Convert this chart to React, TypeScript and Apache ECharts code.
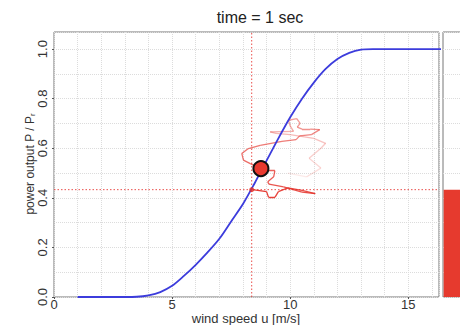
import React, { useEffect, useRef } from "react";
import * as echarts from "echarts";

const titleText = "time = 1 sec";
const xName = "wind speed u [m/s]";
const yName = "power output P / P{s|r}";

// power curve (wind speed u, normalised power P/Pr)
const curveU = [1, 2, 3, 3.5, 4, 4.5, 5, 5.5, 6, 6.5, 7, 7.5, 8, 8.5, 9, 9.5, 10, 10.5, 11, 11.5, 12, 12.5, 13, 13.5, 14, 15, 16, 17];
const curveP = [0, 0, 0, 0.001, 0.007, 0.02, 0.045, 0.085, 0.13, 0.18, 0.235, 0.305, 0.375, 0.46, 0.55, 0.64, 0.725, 0.8, 0.865, 0.92, 0.96, 0.985, 0.998, 1, 1, 1, 1, 1];

// history trail, oldest first
const trailU = [9.9, 10.7, 11.3, 10.8, 11.3, 11.5, 11.0, 10.0, 9.4,
  9.15, 10.14, 10.0, 9.93, 10.28, 10.42, 10.3, 10.5, 10.85, 11.25, 10.9, 10.4, 10.25,
  9.65, 8.73, 8.23, 7.95, 8.02, 8.31, 8.6,
  8.95, 9.35, 9.3, 9.05, 9.1, 9.72, 10.5, 11.06, 10.5, 9.9, 9.5, 9.36, 9.08, 9.0, 8.4];
const trailP = [0.5, 0.485, 0.52, 0.56, 0.6, 0.62, 0.64, 0.655, 0.66,
  0.666, 0.668, 0.69, 0.713, 0.72, 0.7, 0.685, 0.677, 0.677, 0.675, 0.655, 0.65, 0.635,
  0.628, 0.612, 0.599, 0.579, 0.552, 0.538, 0.525,
  0.51, 0.51, 0.485, 0.465, 0.455, 0.444, 0.423, 0.417, 0.43, 0.44, 0.425, 0.403, 0.403, 0.425, 0.433];

const currentU = [8.76];
const currentP = [0.518];
const markU = 8.37;
const markP = 0.433;
const barValue = [0.433];

const XMAX = 16.3;
const YMAX = 1.069;

export default function App() {
  const ref = useRef<HTMLDivElement>(null);
  useEffect(() => {
    const chart = echarts.init(ref.current!, null, { renderer: "svg" });
    const font = "'Liberation Sans', Arial, Helvetica, sans-serif";
    const red = "rgb(228,48,40)";
    const segs: any[] = [];
    for (let i = 0; i < trailU.length - 1; i++) {
      const t = i / (trailU.length - 2);
      segs.push({
        coords: [[trailU[i], trailP[i]], [trailU[i + 1], trailP[i + 1]]],
        lineStyle: { opacity: 0.1 + 0.85 * Math.pow(t, 0.7) },
      });
    }
    const grid = { color: "#dcdcdc", type: "dotted" as const, width: 1 };
    const dotted = { color: "rgba(232,60,55,0.9)", type: [1.5, 2] as any, width: 1 };
    chart.setOption({
      animation: false,
      textStyle: { fontFamily: font },
      graphic: [
        {
          type: "text", x: 260, y: 17,
          style: { text: titleText, fontSize: 16, fill: "#222", align: "center", verticalAlign: "middle", fontFamily: font },
        },
        {
          type: "text", x: 246, y: 318.5,
          style: { text: xName, fontSize: 13, fill: "#333", align: "center", verticalAlign: "middle", fontFamily: font },
        },
        {
          type: "text", x: 30, y: 164, rotation: Math.PI / 2,
          style: {
            text: yName, fontSize: 12, fill: "#333", align: "center", verticalAlign: "middle", fontFamily: font,
            rich: { s: { fontSize: 8, fill: "#333", fontFamily: font, padding: [5, 0, 0, 0] } },
          },
        },
      ],
      grid: [
        { left: 54, top: 32, right: 21, bottom: 28, show: true, borderColor: "#777", borderWidth: 1, outerBoundsMode: "none", containLabel: false },
        { left: 443, top: 32, right: -50, bottom: 28, show: true, borderColor: "#777", borderWidth: 1, outerBoundsMode: "none", containLabel: false },
      ],
      xAxis: [
        {
          type: "value", gridIndex: 0, position: "bottom", min: 0, max: XMAX, interval: 1,
          axisLine: { show: false }, axisTick: { show: false }, axisLabel: { show: false },
          splitLine: { show: true, lineStyle: grid },
        },
        {
          type: "value", gridIndex: 0, position: "bottom", min: 0, max: XMAX, interval: 5,
          axisLine: { show: false },
          axisTick: { show: true, length: 2, lineStyle: { color: "#555" } },
          axisLabel: { fontSize: 13, lineHeight: 12, color: "#333", margin: 1, showMaxLabel: false, fontFamily: font },
          splitLine: { show: false },
        },
        { type: "category", gridIndex: 1, data: [""], show: false },
      ],
      yAxis: [
        {
          type: "value", gridIndex: 0, position: "left", min: 0, max: YMAX, interval: 0.1,
          axisLine: { show: false }, axisTick: { show: false }, axisLabel: { show: false },
          splitLine: { show: true, lineStyle: grid },
        },
        {
          type: "value", gridIndex: 0, position: "left", min: 0, max: YMAX, interval: 0.2,
          axisLine: { show: false },
          axisTick: { show: true, length: 2, lineStyle: { color: "#555" } },
          axisLabel: {
            rotate: 90, fontSize: 13, color: "#333", margin: 5, showMaxLabel: false, fontFamily: font,
            formatter: (v: number) => v.toFixed(1),
          },
          splitLine: { show: false },
        },
        {
          type: "value", gridIndex: 1, min: 0, max: YMAX, interval: 0.1,
          axisLine: { show: false }, axisTick: { show: false }, axisLabel: { show: false },
          splitLine: { show: true, lineStyle: grid },
        },
      ],
      series: [
        {
          type: "line", xAxisIndex: 0, yAxisIndex: 0, silent: true,
          data: [[markU, 0], [markU, YMAX]], showSymbol: false, lineStyle: dotted, z: 1,
        },
        {
          type: "line", xAxisIndex: 0, yAxisIndex: 0, silent: true,
          data: [[0, markP], [XMAX, markP]], showSymbol: false, lineStyle: dotted, z: 1,
        },
        {
          type: "lines", coordinateSystem: "cartesian2d", xAxisIndex: 0, yAxisIndex: 0,
          data: segs, lineStyle: { color: red, width: 1.3 }, z: 2, silent: true,
        },
        {
          type: "line", xAxisIndex: 0, yAxisIndex: 0,
          data: curveU.map((u, i) => [u, curveP[i]]),
          showSymbol: false, smooth: 0.3, clip: true,
          lineStyle: { color: "#3c3cdc", width: 1.8 }, z: 3,
        },
        {
          type: "scatter", xAxisIndex: 0, yAxisIndex: 0,
          data: [[markU, markP]], symbolSize: 5, itemStyle: { color: red }, z: 4,
        },
        {
          type: "scatter", xAxisIndex: 0, yAxisIndex: 0,
          data: currentU.map((u, i) => [u, currentP[i]]), symbolSize: 15,
          itemStyle: { color: "#e8392f", borderColor: "#111", borderWidth: 2, opacity: 1 }, z: 5,
        },
        {
          type: "bar", xAxisIndex: 2, yAxisIndex: 2, data: barValue, barWidth: "98%",
          itemStyle: { color: "#e63a2e" },
        },
      ],
    });
    return () => chart.dispose();
  }, []);
  return <div ref={ref} style={{ position: "absolute", left: 0, top: 0, width: 460, height: 325 }} />;
}
